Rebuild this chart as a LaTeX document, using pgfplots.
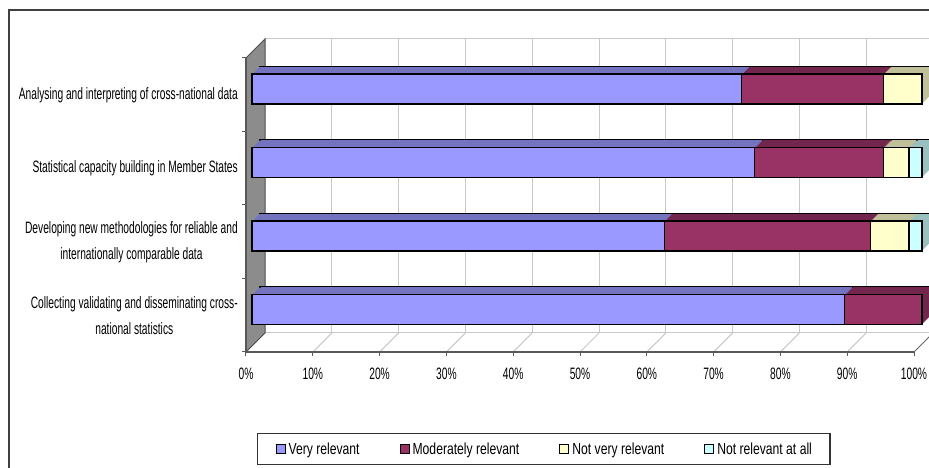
\documentclass[border=0pt]{standalone}
\usepackage{pgfplots}
\pgfplotsset{compat=1.18}
\usepackage{pgfplotstable}
\usepackage{fontspec}
\setmainfont{Liberation Sans}[FakeStretch=0.62]
\newfontfamily\legendfont{Liberation Sans}[FakeStretch=0.76]

% face colours (front) and shaded colours (top / depth)
\definecolor{vrFront}{HTML}{9999FF}
\definecolor{vrTop}{HTML}{7373C0}
\definecolor{mrFront}{HTML}{993366}
\definecolor{mrTop}{HTML}{73264D}
\definecolor{nvFront}{HTML}{FFFFCC}
\definecolor{nvTop}{HTML}{BFBF99}
\definecolor{naFront}{HTML}{CCFFFF}
\definecolor{naTop}{HTML}{99BFBF}
\definecolor{wallGrey}{HTML}{8C8C8C}
\definecolor{gridGrey}{HTML}{C8C8C8}

% share of answers per activity (0 = bottom bar)
\pgfplotstableread{
cat very moderately notvery notatall
0   88.46 11.54 0    0
1   61.54 30.77 5.77 1.92
2   75.00 19.23 3.85 1.92
3   73.08 21.15 5.77 0
}\relevance

\pgfplotsset{
  barlayer/.style={
    at={(252pt+#1pt,121.5pt+#1pt)}, anchor=south west,
    width=670pt, height=294pt, scale only axis,
    xmin=0, xmax=100, ymin=-0.5, ymax=3.5,
    hide axis, clip=false,
    xbar stacked, bar width=30pt,
  },
}

\begin{document}
\begin{tikzpicture}[x=1pt,y=1pt]
\useasboundingbox (0,0) rectangle (929,468);
\draw[line width=1.5pt, black!75] (9,0) -- (9,458) -- (929,458);

% back wall with vertical grid lines
\begin{axis}[at={(265pt,135pt)}, anchor=south west,
  width=668pt, height=294pt, scale only axis,
  xmin=0, xmax=100, ymin=0, ymax=1,
  xtick={10,20,...,100}, xticklabels={}, ytick=\empty,
  xmajorgrids, major grid style={draw=gridGrey, line width=1pt},
  major tick length=0pt, axis line style={draw=none}, clip=false]
\draw[gridGrey, line width=1pt] (rel axis cs:0,1) -- (rel axis cs:1,1);
\end{axis}

% front plane: floor, side wall, ticks and labels
\begin{axis}[at={(246pt,116pt)}, anchor=south west,
  width=668pt, height=294pt, scale only axis,
  xmin=0, xmax=100, ymin=-0.5, ymax=3.5,
  axis lines*=left, axis on top, clip=false,
  axis line style={draw=black!65, line width=1.2pt},
  tick align=outside,
  major tick length=4pt, minor tick length=4pt,
  tick style={black!65, line width=1pt},
  xtick={0,10,...,100},
  xticklabels={0\%,10\%,20\%,30\%,40\%,50\%,60\%,70\%,80\%,90\%,100\%},
  xticklabel style={inner sep=0pt, yshift=-12pt, font=\fontsize{16.5}{18}\selectfont},
  ytick={0,1,2,3},
  every major y tick/.style={draw=none},
  minor ytick={-0.5,0.5,1.5,2.5,3.5},
  yticklabels={{Collecting validating and disseminating cross-\\national statistics},
               {Developing new methodologies for reliable and\\internationally comparable data},
               {Statistical capacity building in Member States},
               {Analysing and interpreting of cross-national data}},
  yticklabel style={align=center, inner sep=0pt, xshift=-4pt, font=\fontsize{16.5}{26}\selectfont},
]
\fill[white] (axis cs:0,-0.5) -- (axis cs:100,-0.5)
  -- ([shift={(19pt,19pt)}]axis cs:100,-0.5) -- ([shift={(19pt,19pt)}]axis cs:0,-0.5) -- cycle;
\pgfplotsinvokeforeach{10,20,...,90}{
  \draw[gridGrey, line width=1pt] (axis cs:#1,-0.5) -- ([shift={(19pt,19pt)}]axis cs:#1,-0.5);
}
\draw[gridGrey, line width=1pt] ([shift={(19pt,19pt)}]axis cs:0,-0.5) -- ([shift={(19pt,19pt)}]axis cs:100,-0.5);
\draw[black!60, line width=1pt] (axis cs:100,-0.5) -- ([shift={(19pt,19pt)}]axis cs:100,-0.5);
\filldraw[fill=wallGrey, draw=black!70, line width=1pt] (axis cs:0,-0.5) -- (axis cs:0,3.5)
  -- ([shift={(19pt,19pt)}]axis cs:0,3.5) -- ([shift={(19pt,19pt)}]axis cs:0,-0.5) -- cycle;
\end{axis}

% depth of the bars: rearmost layer with outline, then filled layers towards the front
\begin{axis}[barlayer=8]
\addplot[fill=vrTop, draw=black, line width=1.4pt] table[x=very, y=cat] {\relevance};
\addplot[fill=mrTop, draw=black, line width=1.4pt] table[x=moderately, y=cat] {\relevance};
\addplot[fill=nvTop, draw=black, line width=1.4pt] table[x=notvery, y=cat] {\relevance};
\addplot[fill=naTop, draw=black, line width=1.4pt] table[x=notatall, y=cat] {\relevance};
\end{axis}
\pgfplotsinvokeforeach{7,6,...,1}{
\begin{axis}[barlayer=#1]
\addplot[fill=vrTop, draw=none] table[x=very, y=cat] {\relevance};
\addplot[fill=mrTop, draw=none] table[x=moderately, y=cat] {\relevance};
\addplot[fill=nvTop, draw=none] table[x=notvery, y=cat] {\relevance};
\addplot[fill=naTop, draw=none] table[x=notatall, y=cat] {\relevance};
\end{axis}
}

% front faces of the bars and the legend
\begin{axis}[barlayer=0,
  legend columns=4,
  legend cell align=left,
  legend image code/.code={\draw[#1, draw=black, line width=1pt] (0pt,-4.5pt) rectangle (9pt,4.5pt);},
  legend style={at={(0.0075,-0.2942)}, anchor=north west,
    draw=black!80, line width=1.2pt,
    inner xsep=18pt, inner ysep=9pt,
    nodes={inner sep=0pt},
    font=\legendfont\fontsize{16}{18}\selectfont,
    /tikz/every odd column/.append style={column sep=3pt},
    /tikz/every even column/.append style={column sep=40pt}},
]
\addplot[fill=vrFront, draw=black, line width=1.5pt] table[x=very, y=cat] {\relevance};
\addlegendentry{Very relevant}
\addplot[fill=mrFront, draw=black, line width=1.5pt] table[x=moderately, y=cat] {\relevance};
\addlegendentry{Moderately relevant}
\addplot[fill=nvFront, draw=black, line width=1.5pt] table[x=notvery, y=cat] {\relevance};
\addlegendentry{Not very relevant}
\addplot[fill=naFront, draw=black, line width=1.5pt] table[x=notatall, y=cat] {\relevance};
\addlegendentry{Not relevant at all}
\end{axis}
\end{tikzpicture}
\end{document}
